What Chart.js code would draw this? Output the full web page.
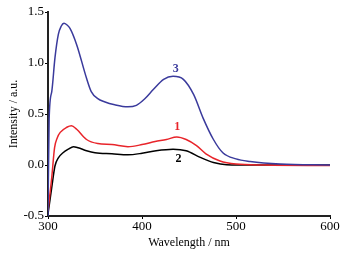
<!DOCTYPE html>
<html>
<head>
<meta charset="utf-8">
<script src="https://cdn.jsdelivr.net/npm/chart.js@4.4.1/dist/chart.umd.min.js"></script>
<style>
  html, body { margin: 0; padding: 0; background: #ffffff; }
  #wrap { width: 345px; height: 253px; }
</style>
</head>
<body>
<div id="wrap"><canvas id="spectra" width="345" height="253"></canvas></div>
<script>
// curve 3 (blue)
const blueX = [300, 301.2, 304, 307.4, 311, 314, 317, 320, 323.4, 330.5, 341, 346, 353, 360, 371, 385, 394, 403, 412, 423, 433, 444, 455, 465, 476, 486, 500, 515, 547, 600];
const blueY = [-0.5, 0.45, 0.72, 1.05, 1.28, 1.36, 1.39, 1.375, 1.34, 1.18, 0.85, 0.72, 0.65, 0.62, 0.59, 0.57, 0.585, 0.65, 0.74, 0.84, 0.87, 0.84, 0.69, 0.46, 0.25, 0.12, 0.06, 0.035, 0.01, 0.0];
// curve 1 (red)
const redX = [300, 304, 307, 310, 313, 320, 325, 330.5, 341, 353, 368, 385, 400, 414, 426, 437, 447, 458, 468, 483, 500, 530, 600];
const redY = [-0.45, -0.12, 0.17, 0.27, 0.32, 0.37, 0.385, 0.35, 0.25, 0.21, 0.2, 0.18, 0.2, 0.23, 0.25, 0.275, 0.25, 0.19, 0.11, 0.04, 0.01, 0.0, -0.005];
// curve 2 (black)
const blackX = [300, 304, 307.4, 311, 316, 321.6, 327, 332, 341, 350, 368, 385, 400, 415, 433, 447, 462, 476, 490, 520, 600];
const blackY = [-0.48, -0.22, -0.01, 0.07, 0.12, 0.155, 0.18, 0.17, 0.14, 0.12, 0.11, 0.10, 0.115, 0.14, 0.155, 0.14, 0.075, 0.025, 0.003, 0.0, 0.0];

// curve numbers placed at data coordinates
const curveLabels = ["3", "1", "2"];
const labelX = [436, 437.6, 438.7];
const labelY = [0.945, 0.37, 0.06];
const labelColors = ["#3a3a9c", "#e8242a", "#000000"];

const xTicks = [300, 400, 500, 600];
const yTicks = [-0.5, 0.0, 0.5, 1.0, 1.5];

function pts(xs, ys) {
    return xs.map((x, i) => ({ x: x, y: ys[i] }));
}

const serif = "'Liberation Serif', 'DejaVu Serif', serif";

const numberPlugin = {
    id: "curveNumbers",
    afterDatasetsDraw(chart) {
        const ctx = chart.ctx;
        const xs = chart.scales.x, ys = chart.scales.y;
        ctx.save();
        ctx.font = "bold 12px " + serif;
        ctx.textAlign = "center";
        ctx.textBaseline = "middle";
        curveLabels.forEach((t, i) => {
            ctx.fillStyle = labelColors[i];
            ctx.fillText(t, xs.getPixelForValue(labelX[i]), ys.getPixelForValue(labelY[i]));
        });
        ctx.restore();
    }
};

const lineStyle = {
    borderWidth: 1.5,
    pointRadius: 0,
    fill: false,
    cubicInterpolationMode: "monotone"
};

new Chart(document.getElementById("spectra").getContext("2d"), {
    type: "line",
    data: {
        datasets: [
            Object.assign({ label: "3", data: pts(blueX, blueY), borderColor: "#3a3a9c" }, lineStyle),
            Object.assign({ label: "1", data: pts(redX, redY), borderColor: "#e8242a" }, lineStyle),
            Object.assign({ label: "2", data: pts(blackX, blackY), borderColor: "#000000" }, lineStyle)
        ]
    },
    options: {
        responsive: false,
        animation: false,
        layout: { padding: { top: 12, right: 15, left: 0, bottom: 0 } },
        plugins: {
            legend: { display: false },
            tooltip: { enabled: false }
        },
        scales: {
            x: {
                type: "linear",
                min: 300,
                max: 600,
                afterBuildTicks: (s) => { s.ticks = xTicks.map(v => ({ value: v })); },
                afterFit: (s) => { s.height = 37; },
                grid: { drawOnChartArea: false, drawTicks: true, tickLength: 3, color: "#000", lineWidth: 1 },
                border: { display: true, color: "#222", width: 2 },
                ticks: { color: "#000", font: { family: serif, size: 13 }, padding: 0, maxRotation: 0 },
                title: { display: true, text: "Wavelength / nm", color: "#000", font: { family: serif, size: 12 }, padding: { top: 0, bottom: 3 } }
            },
            y: {
                type: "linear",
                min: -0.5,
                max: 1.5,
                afterBuildTicks: (s) => { s.ticks = yTicks.map(v => ({ value: v })); },
                afterFit: (s) => { s.width = 48; },
                grid: { drawOnChartArea: false, drawTicks: true, tickLength: 3, color: "#000", lineWidth: 1 },
                border: { display: true, color: "#222", width: 2 },
                ticks: { color: "#000", font: { family: serif, size: 13 }, padding: 1, callback: (v) => Number(v).toFixed(1) },
                title: { display: true, text: "Intensity / a.u.", color: "#000", font: { family: serif, size: 12 }, padding: { top: 7, bottom: 2 } }
            }
        }
    },
    plugins: [numberPlugin]
});
</script>
</body>
</html>
